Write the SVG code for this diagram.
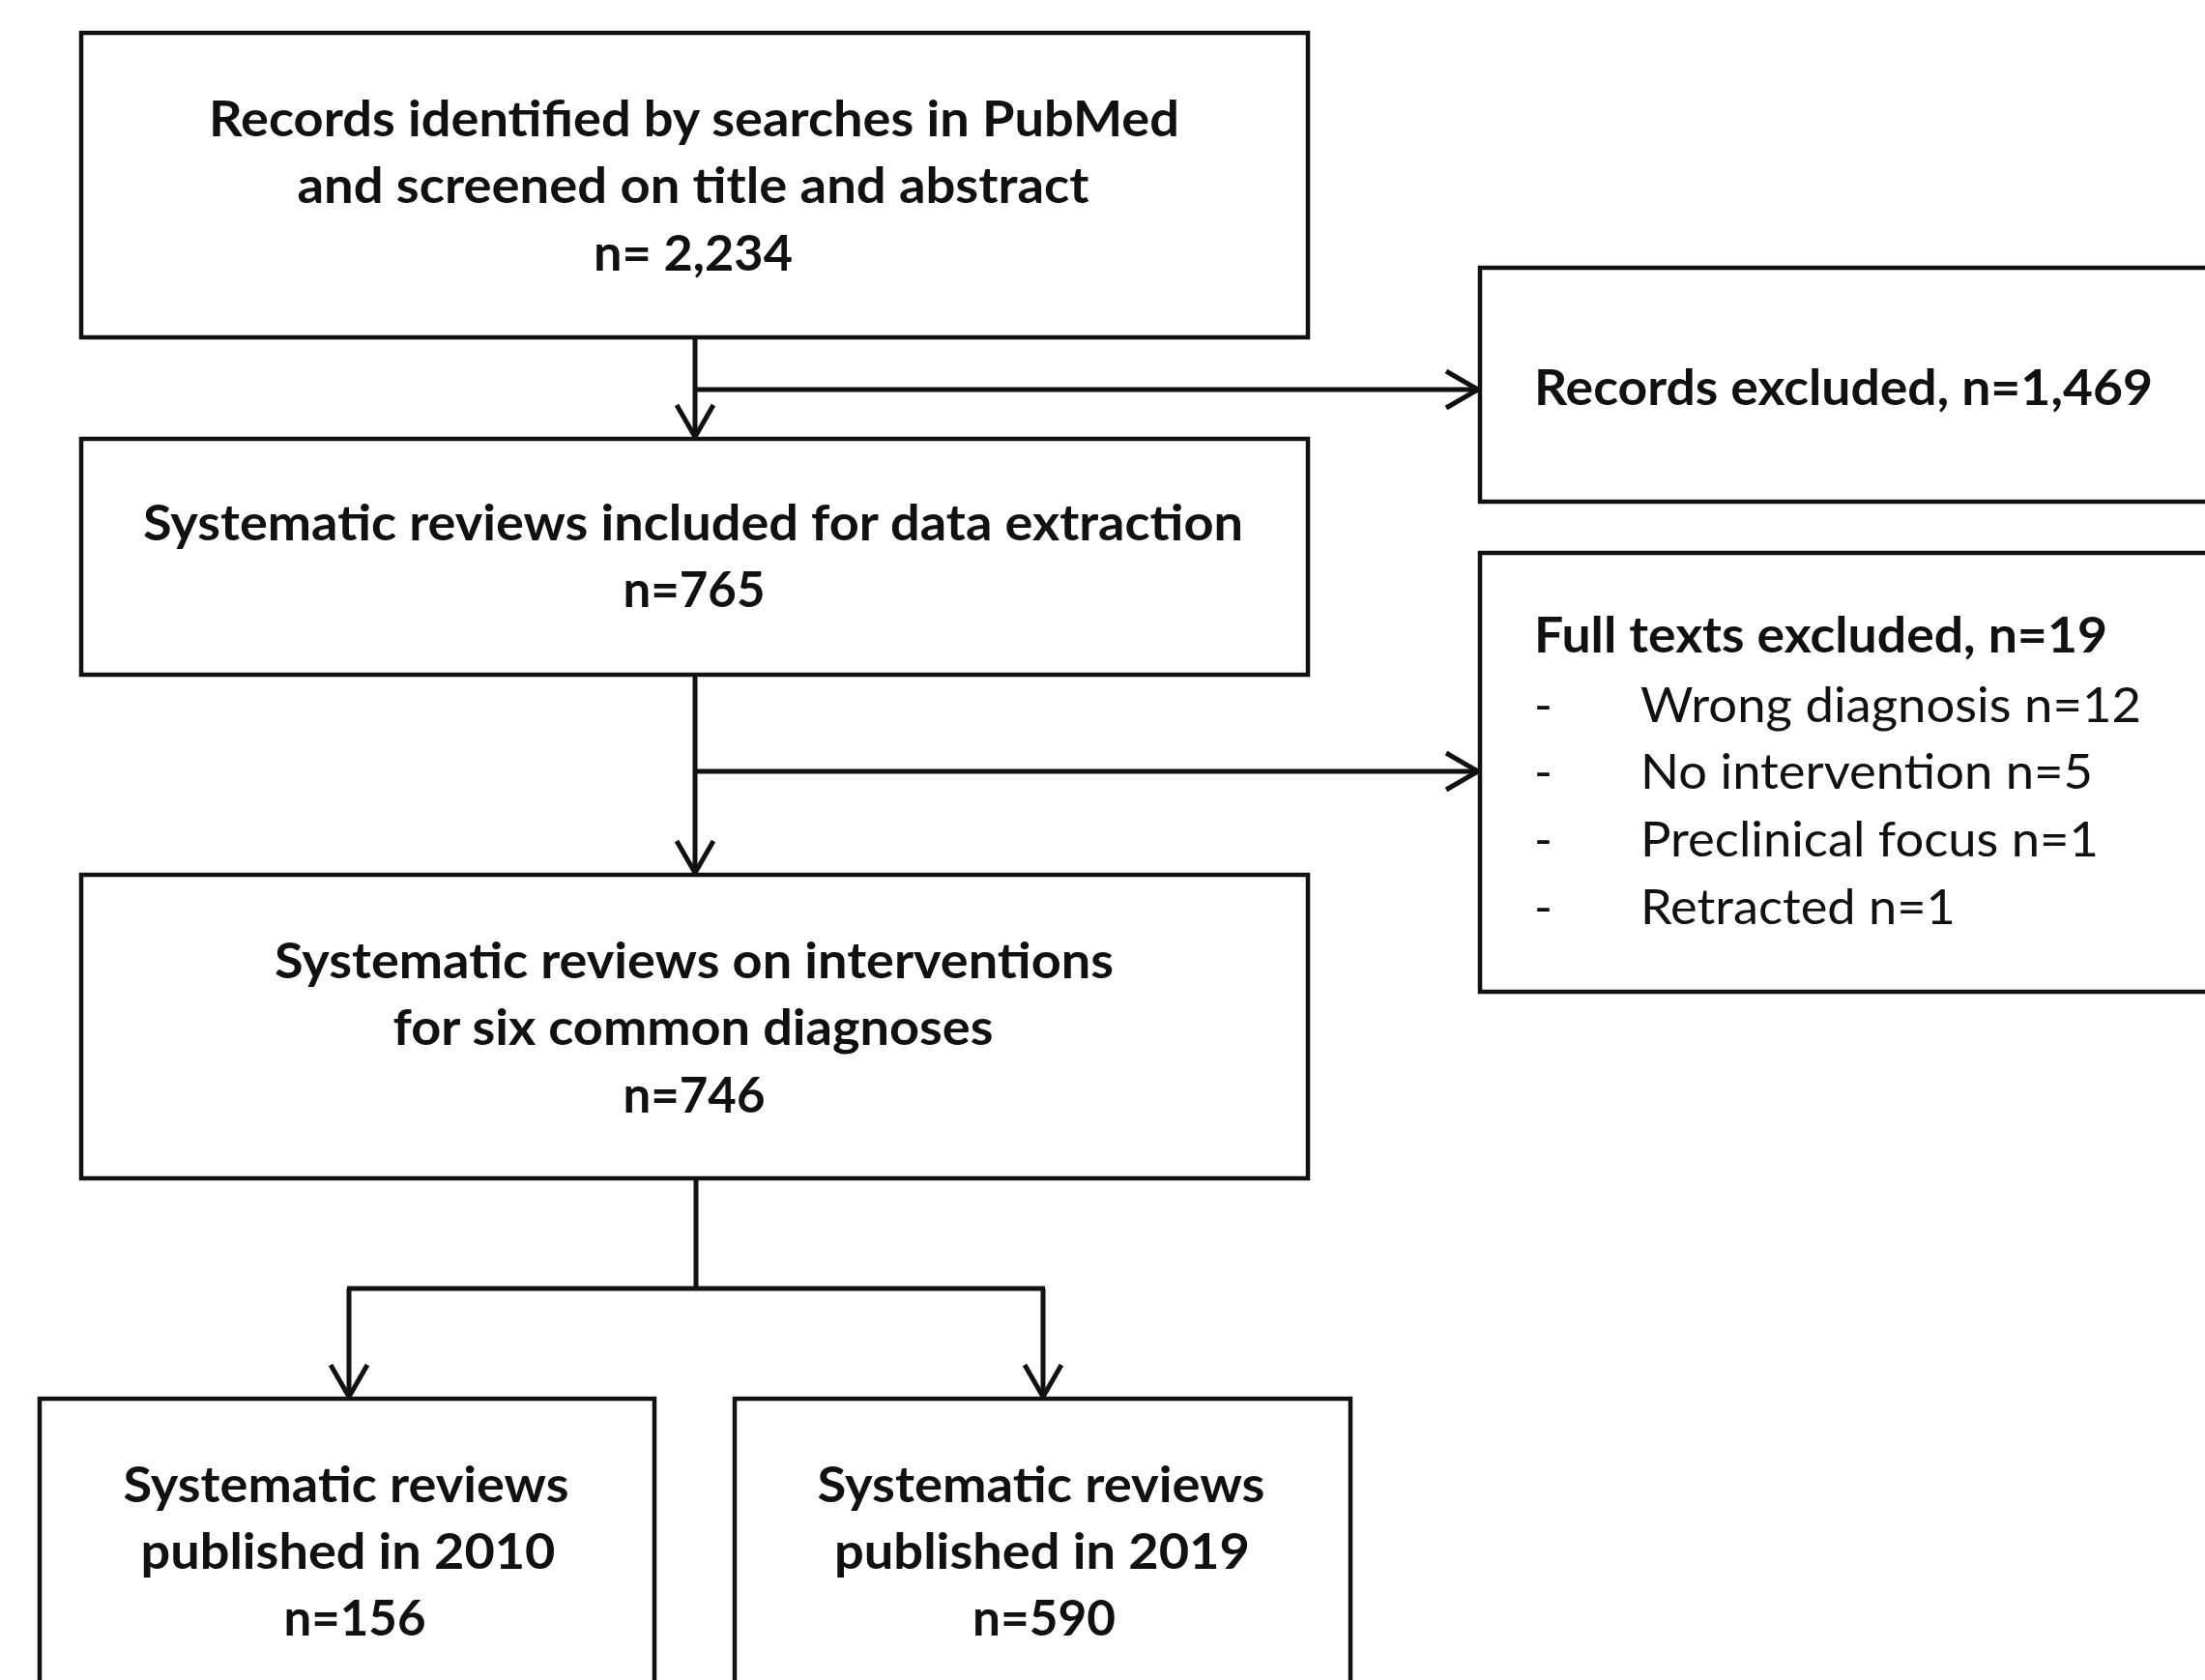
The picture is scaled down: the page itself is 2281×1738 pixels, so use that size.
<svg xmlns="http://www.w3.org/2000/svg" width="2281" height="1738" viewBox="0 0 2281 1738">
  <style>
    .box { fill: #ffffff; stroke: #111111; stroke-width: 4.5; }
    .t { font-family: Lato, "Open Sans", "Liberation Sans", sans-serif; font-size: 51px; fill: #111111; }
    .b { font-weight: bold; }
    .c { text-anchor: middle; }
    .conn { fill: none; stroke: #111111; stroke-width: 5; }
  </style>
  <defs>
    <marker id="arrow" viewBox="0 0 44 44" refX="38" refY="22" markerWidth="44" markerHeight="44" markerUnits="userSpaceOnUse" orient="auto">
      <path d="M5,3 L38,22 L5,41" fill="none" stroke="#111111" stroke-width="5" stroke-linejoin="miter"/>
    </marker>
  </defs>
  <rect x="0" y="0" width="2281" height="1738" fill="#ffffff"/>

  <g id="connectors">
    <line class="conn" x1="719" y1="349" x2="719" y2="452" marker-end="url(#arrow)"/>
    <line class="conn" x1="719" y1="403" x2="1529" y2="403" marker-end="url(#arrow)"/>
    <line class="conn" x1="719" y1="698" x2="719" y2="903" marker-end="url(#arrow)"/>
    <line class="conn" x1="719" y1="798" x2="1529" y2="798" marker-end="url(#arrow)"/>
    <line class="conn" x1="720" y1="1219" x2="720" y2="1333"/>
    <line class="conn" x1="359" y1="1333" x2="1081" y2="1333"/>
    <line class="conn" x1="361" y1="1333" x2="361" y2="1445" marker-end="url(#arrow)"/>
    <line class="conn" x1="1079" y1="1333" x2="1079" y2="1445" marker-end="url(#arrow)"/>
  </g>

  <g id="records-identified">
    <rect class="box" x="84" y="34" width="1269" height="315"/>
    <text class="t b c" x="718" y="141" textLength="1004" lengthAdjust="spacingAndGlyphs">Records identified by searches in PubMed</text>
    <text class="t b c" x="717" y="210" textLength="819" lengthAdjust="spacingAndGlyphs">and screened on title and abstract</text>
    <text class="t b c" x="717" y="280" textLength="206" lengthAdjust="spacingAndGlyphs">n= 2,234</text>
  </g>

  <g id="records-excluded">
    <rect class="box" x="1531" y="277" width="790" height="242"/>
    <text class="t b" x="1587" y="419" textLength="640" lengthAdjust="spacingAndGlyphs">Records excluded, n=1,469</text>
  </g>

  <g id="included-extraction">
    <rect class="box" x="84" y="454" width="1269" height="244"/>
    <text class="t b c" x="717" y="559" textLength="1138" lengthAdjust="spacingAndGlyphs">Systematic reviews included for data extraction</text>
    <text class="t b c" x="718" y="628" textLength="147" lengthAdjust="spacingAndGlyphs">n=765</text>
  </g>

  <g id="full-texts-excluded">
    <rect class="box" x="1531" y="572" width="790" height="454"/>
    <text class="t b" x="1587" y="675" textLength="593" lengthAdjust="spacingAndGlyphs">Full texts excluded, n=19</text>
    <text class="t" x="1587" y="747">-</text>
    <text class="t" x="1697" y="747" textLength="518" lengthAdjust="spacingAndGlyphs">Wrong diagnosis n=12</text>
    <text class="t" x="1587" y="816">-</text>
    <text class="t" x="1697" y="816" textLength="468" lengthAdjust="spacingAndGlyphs">No intervention n=5</text>
    <text class="t" x="1587" y="886">-</text>
    <text class="t" x="1697" y="886" textLength="474" lengthAdjust="spacingAndGlyphs">Preclinical focus n=1</text>
    <text class="t" x="1587" y="956">-</text>
    <text class="t" x="1697" y="956" textLength="326" lengthAdjust="spacingAndGlyphs">Retracted n=1</text>
  </g>

  <g id="six-diagnoses">
    <rect class="box" x="84" y="905" width="1269" height="314"/>
    <text class="t b c" x="718" y="1012" textLength="868" lengthAdjust="spacingAndGlyphs">Systematic reviews on interventions</text>
    <text class="t b c" x="717" y="1081" textLength="621" lengthAdjust="spacingAndGlyphs">for six common diagnoses</text>
    <text class="t b c" x="718" y="1151" textLength="147" lengthAdjust="spacingAndGlyphs">n=746</text>
  </g>

  <g id="published-2010">
    <rect class="box" x="41" y="1447" width="636" height="320"/>
    <text class="t b c" x="358" y="1554" textLength="461" lengthAdjust="spacingAndGlyphs">Systematic reviews</text>
    <text class="t b c" x="360" y="1623" textLength="429" lengthAdjust="spacingAndGlyphs">published in 2010</text>
    <text class="t b c" x="367" y="1692" textLength="147" lengthAdjust="spacingAndGlyphs">n=156</text>
  </g>

  <g id="published-2019">
    <rect class="box" x="760" y="1447" width="637" height="320"/>
    <text class="t b c" x="1077" y="1554" textLength="463" lengthAdjust="spacingAndGlyphs">Systematic reviews</text>
    <text class="t b c" x="1078" y="1623" textLength="430" lengthAdjust="spacingAndGlyphs">published in 2019</text>
    <text class="t b c" x="1080" y="1692" textLength="148" lengthAdjust="spacingAndGlyphs">n=590</text>
  </g>
</svg>
